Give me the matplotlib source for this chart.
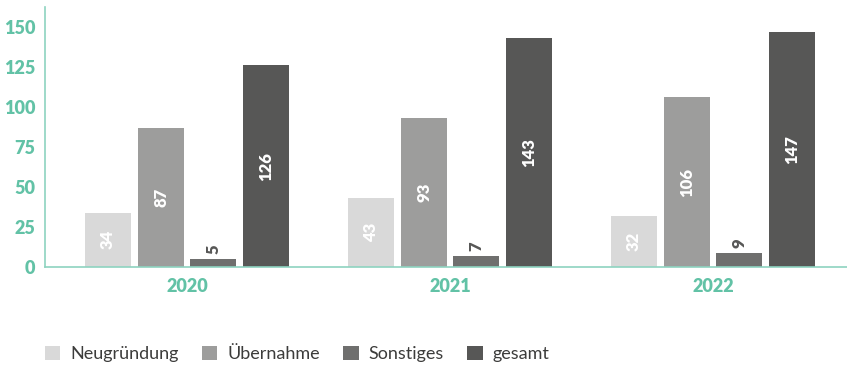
import numpy as np
import matplotlib.pyplot as plt
from matplotlib.patches import Patch

jahre = ['2020', '2021', '2022']
kategorien = ['Neugründung', 'Übernahme', 'Sonstiges', 'gesamt']
neugruendung = [34, 43, 32]
uebernahme = [87, 93, 106]
sonstiges = [5, 7, 9]
gesamt = [126, 143, 147]
y_ticks = [0, 25, 50, 75, 100, 125, 150]

farben = ['#d9d9d9', '#9d9d9c', '#6f6f6e', '#575756']
teal = '#62c2a6'
achse = '#8ed3c0'

fig = plt.figure(figsize=(8.47, 3.67), dpi=100)
ax = fig.add_axes([0.053, 0.2725, 0.947, 0.7085])

x = np.arange(len(jahre))
breite = 0.175
offsets = [-0.30, -0.097, 0.10, 0.30]
reihen = [neugruendung, uebernahme, sonstiges, gesamt]

for werte, off, farbe in zip(reihen, offsets, farben):
    bars = ax.bar(x + off, werte, width=breite, color=farbe)
    for b, v in zip(bars, werte):
        cx = b.get_x() + b.get_width() / 2
        if v < 20:
            # kleine Balken: Wert oberhalb
            ax.text(cx, v + 3, str(v), rotation=90, ha='center', va='bottom',
                    color='#575756', fontsize=12, fontweight='heavy', family='Lato')
        else:
            ax.text(cx, v / 2, str(v), rotation=90, ha='center', va='center',
                    color='white', fontsize=12, fontweight='heavy', family='Lato')

ax.set_xlim(-0.54, 2.51)
ax.set_ylim(0, 162.5)
ax.set_yticks(y_ticks)
ax.set_xticks(x)
ax.set_xticklabels(jahre)
for lbl in ax.get_xticklabels() + ax.get_yticklabels():
    lbl.set_color(teal)
    lbl.set_fontsize(13)
    lbl.set_fontweight('heavy')
    lbl.set_family('Lato')
ax.tick_params(axis='both', length=0)
ax.tick_params(axis='y', pad=7)
ax.tick_params(axis='x', pad=8)

for s in ['top', 'right']:
    ax.spines[s].set_visible(False)
for s in ['left', 'bottom']:
    ax.spines[s].set_color(achse)
    ax.spines[s].set_linewidth(1.2)

handles = [Patch(facecolor=f, edgecolor='none') for f in farben]
fig.legend(handles, kategorien, loc='center left', bbox_to_anchor=(0.053, 0.035),
           ncol=4, frameon=False, handlelength=0.85, handleheight=0.85,
           handletextpad=0.55, columnspacing=1.3, borderpad=0, borderaxespad=0,
           prop={'family': 'Lato', 'size': 13})
for t in fig.legends[0].get_texts():
    t.set_color('#3c3c3b')

fig.savefig('out.png', dpi=100)
